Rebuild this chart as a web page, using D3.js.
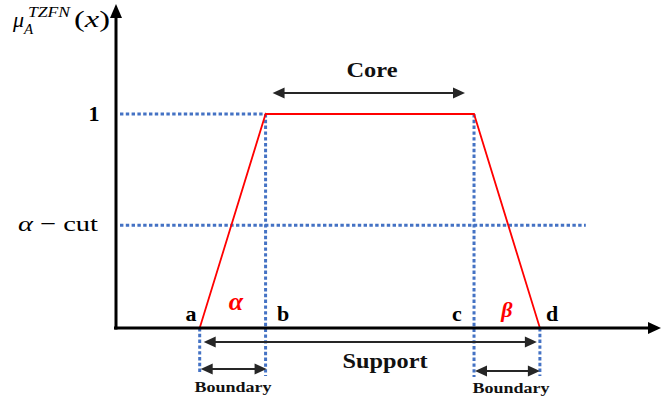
<!DOCTYPE html>
<html>
<head>
<meta charset="utf-8">
<script src="https://cdn.jsdelivr.net/npm/d3@7"></script>
<style>
  html, body { margin: 0; padding: 0; background: #fff; }
  svg { display: block; }
</style>
</head>
<body>
<svg id="chart" width="661" height="403"></svg>
<script>
// Trapezoidal fuzzy number: breakpoints and membership grades
const pointNames = ["a", "b", "c", "d"];
const pointX = [1.55, 2.77, 6.63, 7.85];
const membership = [0, 1, 1, 0];
const alphaLevel = 0.48;
const yTickValues = [1, alphaLevel];
const yTickLabels = ["1", "α − cut"];
const regionLabels = ["Core", "Support", "Boundary", "Boundary"];
const greekLabels = ["α", "β"];

// Pick the first installed serif face; fall back to a generic stack
function hasFont(name) {
  const ctx = document.createElement("canvas").getContext("2d");
  const sample = "mmmmmwwwlli Core Support 01";
  return ["monospace", "sans-serif", "serif"].some(base => {
    ctx.font = `72px ${base}`;
    const w0 = ctx.measureText(sample).width;
    ctx.font = `72px "${name}", ${base}`;
    return ctx.measureText(sample).width !== w0;
  });
}
const serifChoices = ["Liberation Serif", "Tinos", "Times New Roman", "DejaVu Serif", "Noto Serif", "FreeSerif"];
const found = serifChoices.find(hasFont);
const serif = found ? `"${found}", serif` : "serif";

const svg = d3.select("#chart");
const x = d3.scaleLinear().domain([0, 10]).range([116, 656]);
const y = d3.scaleLinear().domain([0, 1]).range([328, 114]);

const blue = "#4472C4";
const dark = "#262626";
const dotted = "3.4 2.4";

const X0 = x(0), Y0 = y(0);
const [xa, xb, xc, xd] = pointX.map(x);

// Filled arrowhead pointing along (dx, dy)
function head(g, tipX, tipY, dx, dy, len, half, color) {
  const n = Math.hypot(dx, dy), ux = dx / n, uy = dy / n;
  const bx = tipX - ux * len, by = tipY - uy * len;
  g.append("path")
    .attr("d", `M${tipX},${tipY}L${bx - uy * half},${by + ux * half}L${bx + uy * half},${by - ux * half}Z`)
    .attr("fill", color);
}

// Horizontal double-headed measurement arrow
function dimArrow(x1, x2, yy) {
  const g = svg.append("g");
  const len = 12, half = 5.5;
  g.append("line")
    .attr("x1", x1 + len - 1).attr("x2", x2 - len + 1)
    .attr("y1", yy).attr("y2", yy)
    .attr("stroke", dark).attr("stroke-width", 2.2);
  head(g, x2, yy, 1, 0, len, half, dark);
  head(g, x1, yy, -1, 0, len, half, dark);
}

// Guide lines (dotted blue)
const guides = svg.append("g").attr("stroke", blue).attr("stroke-width", 3)
  .attr("stroke-dasharray", dotted).attr("fill", "none");
guides.append("line").attr("x1", X0 + 4).attr("x2", xb).attr("y1", y(1)).attr("y2", y(1));
guides.append("line").attr("x1", X0 + 4).attr("x2", x(8.7)).attr("y1", y(alphaLevel)).attr("y2", y(alphaLevel));
const dropEnds = [372, 376, 377, 376];
pointX.forEach((v, i) => {
  guides.append("line")
    .attr("x1", x(v)).attr("x2", x(v))
    .attr("y1", y(membership[i])).attr("y2", dropEnds[i]);
});

// Membership function
const pts = pointX.map((v, i) => [v, membership[i]]);
svg.append("path")
  .datum(pts)
  .attr("d", d3.line().x(d => x(d[0])).y(d => y(d[1])))
  .attr("fill", "none").attr("stroke", "#FF0000").attr("stroke-width", 1.8);

// Axes with arrowheads
const axes = svg.append("g");
axes.append("line").attr("x1", X0 - 2).attr("x2", 650).attr("y1", Y0).attr("y2", Y0)
  .attr("stroke", "#000").attr("stroke-width", 3);
head(axes, 661, Y0, 1, 0, 13, 6, "#000");
axes.append("line").attr("x1", X0).attr("x2", X0).attr("y1", Y0 + 1.5).attr("y2", 16)
  .attr("stroke", "#000").attr("stroke-width", 3);
head(axes, X0, 4, 0, -1, 14, 6, "#000");

// Y tick labels
svg.append("text").attr("font-family", serif).attr("x", 94).attr("y", y(1) + 7)
  .attr("text-anchor", "middle")
  .attr("font-weight", "bold").attr("font-size", 22).text(yTickLabels[0]);
const cut = svg.append("text").attr("font-family", serif).attr("x", 18).attr("y", y(alphaLevel) + 6)
  .attr("font-size", 22).attr("textLength", 80).attr("lengthAdjust", "spacingAndGlyphs");
cut.append("tspan").attr("font-style", "italic").text(yTickLabels[1].charAt(0));
cut.append("tspan").text(yTickLabels[1].slice(1));

// Y axis title: μ_A^{TZFN}(x)
const title = svg.append("g").attr("font-family", serif).attr("font-style", "italic");
title.append("text").attr("x", 13).attr("y", 27).attr("font-size", 22).text("μ");
title.append("text").attr("x", 24).attr("y", 34).attr("font-size", 15).text("A");
title.append("text").attr("x", 28).attr("y", 17).attr("font-size", 15)
  .attr("textLength", 42).attr("lengthAdjust", "spacingAndGlyphs").text("TZFN");
const paren = title.append("text").attr("x", 74).attr("y", 27).attr("font-size", 24)
  .attr("textLength", 36).attr("lengthAdjust", "spacingAndGlyphs");
paren.append("tspan").attr("font-style", "normal").text("(");
paren.append("tspan").text("x");
paren.append("tspan").attr("font-style", "normal").text(")");

// Point labels a, b, c, d
const labelX = [191, 283, 457, 552];
svg.append("g").attr("font-family", serif).selectAll("text").data(pointNames).join("text")
  .attr("x", (d, i) => labelX[i]).attr("y", 321)
  .attr("text-anchor", "middle")
  .attr("font-weight", "bold").attr("font-size", 22).text(d => d);

// Greek slope labels
svg.append("text").attr("font-family", serif).attr("x", 236).attr("y", 310).attr("text-anchor", "middle")
  .attr("font-style", "italic").attr("font-weight", "bold")
  .attr("font-size", 26).attr("fill", "#FF0000").text(greekLabels[0]);
svg.append("text").attr("font-family", serif).attr("x", 507).attr("y", 317).attr("text-anchor", "middle")
  .attr("font-style", "italic").attr("font-weight", "bold")
  .attr("font-size", 22).attr("fill", "#FF0000").text(greekLabels[1]);

// Core, support and boundary dimension arrows
dimArrow(xb + 7, xc - 9, 93);
dimArrow(xa + 4, xd - 3, 342);
dimArrow(xa + 1, xb + 1, 369);
dimArrow(xc + 1, xd, 371);

const region = svg.append("g").attr("font-family", serif).attr("font-weight", "bold")
  .attr("text-anchor", "middle").attr("fill", "#111");
const regionSpec = [
  { x: 372, y: 77, size: 21, len: 51 },
  { x: 385, y: 368, size: 21, len: 85 },
  { x: 233, y: 392, size: 15, len: 77 },
  { x: 511, y: 393, size: 15, len: 77 }
];
regionLabels.forEach((t, i) => {
  const s = regionSpec[i];
  region.append("text").attr("x", s.x).attr("y", s.y).attr("font-size", s.size)
    .attr("textLength", s.len).attr("lengthAdjust", "spacingAndGlyphs").text(t);
});
</script>
</body>
</html>
